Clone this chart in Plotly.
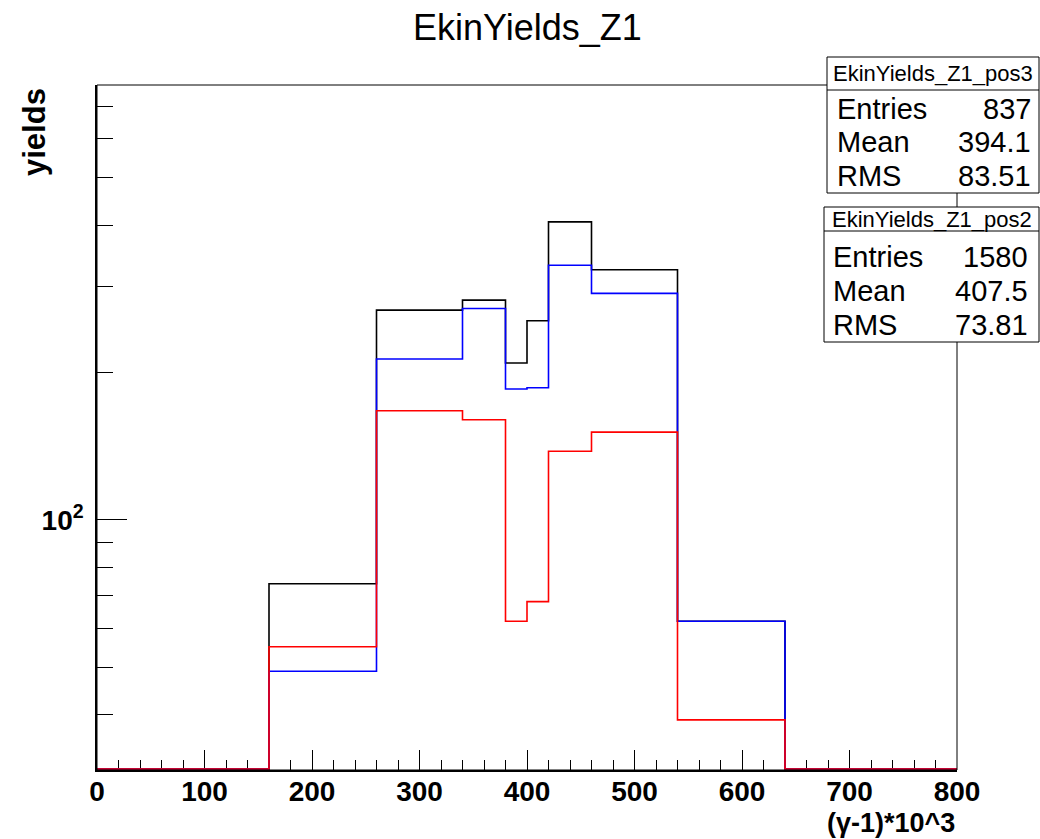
import math
import plotly.graph_objects as go

# ---- data ----
bin_edges = [0, 160, 260, 340, 380, 400, 420, 460, 540, 640, 800]
yields_all = [0, 74, 268, 281, 209, 255, 406, 324, 62, 0]
yields_pos2 = [0, 49, 213, 270, 185, 186, 331, 290, 62, 0]
yields_pos3 = [0, 55, 167, 160, 62, 68, 138, 151, 39, 0]

stats_pos3 = {"name": "EkinYields_Z1_pos3", "Entries": "837", "Mean": "394.1", "RMS": "83.51"}
stats_pos2 = {"name": "EkinYields_Z1_pos2", "Entries": "1580", "Mean": "407.5", "RMS": "73.81"}

y_lo, y_hi = 30.8, 773.0

W, H = 1040, 839
L, R, T, B = 97, 957, 85, 770


def px2x(px):
    return (px - L) / (R - L)


def py2y(py):
    return (B - py) / (B - T)


def step(vals):
    floor = 10 ** (math.log10(y_lo) + 0.002)
    v = [x if x > 0 else floor for x in vals]
    xs = bin_edges[:-1] + [bin_edges[-1]]
    ys = v + [v[-1]]
    return xs, ys


fig = go.Figure()
for vals, col in [(yields_all, "#000000"), (yields_pos2, "#0000ff"), (yields_pos3, "#ff0000")]:
    xs, ys = step(vals)
    fig.add_trace(go.Scatter(x=xs, y=ys, mode="lines", line=dict(color=col, width=1.6, shape="hv"),
                             showlegend=False, hoverinfo="skip"))

bold = dict(family="Liberation Sans, Arial, sans-serif", size=28, color="black", weight="bold")
reg = "Liberation Sans, Arial, sans-serif"

fig.update_layout(
    width=W, height=H,
    margin=dict(l=L, r=W - R, t=T, b=H - B, pad=0),
    paper_bgcolor="white", plot_bgcolor="white",
    showlegend=False,
    xaxis=dict(range=[0, 800], showgrid=False, zeroline=False, showline=True, linecolor="black",
               linewidth=1.5, ticks="inside", ticklen=20, tickwidth=1, tickcolor="black",
               tickmode="linear", tick0=0, dtick=100, tickfont=bold, ticklabelstandoff=-4,
               layer="below traces",
               minor=dict(ticks="inside", ticklen=10, tickwidth=1, tickcolor="black", dtick=20, tick0=0)),
    yaxis=dict(type="log", range=[math.log10(y_lo), math.log10(y_hi)], showgrid=False, zeroline=False,
               showline=True, linecolor="black", linewidth=1.5, ticks="inside", ticklen=30, tickwidth=1,
               tickcolor="black", tickmode="array", tickvals=[100], ticktext=["10<sup>2</sup>"],
               tickfont=bold, ticklabelstandoff=6, layer="below traces",
               minor=dict(ticks="inside", ticklen=16, tickwidth=1, tickcolor="black", tickmode="array",
                          tickvals=[40, 50, 60, 70, 80, 90, 200, 300, 400, 500, 600, 700])),
)

# frame
fig.add_shape(type="rect", xref="paper", yref="paper", x0=0, x1=1, y0=0, y1=1,
              line=dict(color="black", width=1), layer="above")

# title
fig.add_annotation(text="EkinYields_Z1", xref="paper", yref="paper", x=px2x(527), y=py2y(28),
                   xanchor="center", yanchor="middle", showarrow=False,
                   font=dict(family=reg, size=36, color="black"))

# axis titles
fig.add_annotation(text="(γ-1)*10^3", xref="paper", yref="paper", x=1, y=py2y(823),
                   xanchor="right", yanchor="middle", showarrow=False,
                   font=dict(family=bold["family"], size=27, color="black", weight="bold"))
fig.add_annotation(text="yields", xref="paper", yref="paper", x=px2x(34), y=py2y(86),
                   xanchor="center", yanchor="top", textangle=-90, showarrow=False,
                   font=dict(family=bold["family"], size=31, color="black", weight="bold"))


def stat_box(st, x0, x1, y0, ysep, y1, rows_y, left_x, right_x):
    fig.add_shape(type="rect", xref="paper", yref="paper", x0=px2x(x0), x1=px2x(x1),
                  y0=py2y(y1), y1=py2y(y0), line=dict(color="black", width=1),
                  fillcolor="white", layer="above")
    fig.add_shape(type="line", xref="paper", yref="paper", x0=px2x(x0), x1=px2x(x1),
                  y0=py2y(ysep), y1=py2y(ysep), line=dict(color="black", width=1), layer="above")
    fig.add_annotation(text=st["name"], xref="paper", yref="paper", x=px2x((x0 + x1) / 2),
                       y=py2y((y0 + ysep) / 2), xanchor="center", yanchor="middle", showarrow=False,
                       font=dict(family=reg, size=22, color="black"))
    for key, yy in zip(["Entries", "Mean", "RMS"], rows_y):
        fig.add_annotation(text=key, xref="paper", yref="paper", x=px2x(left_x), y=py2y(yy),
                           xanchor="left", yanchor="middle", showarrow=False,
                           font=dict(family=reg, size=29, color="black"))
        fig.add_annotation(text=st[key], xref="paper", yref="paper", x=px2x(right_x), y=py2y(yy),
                           xanchor="right", yanchor="middle", showarrow=False,
                           font=dict(family=reg, size=29, color="black"))


stat_box(stats_pos3, 827, 1039, 57, 90, 193, [109, 142, 176], 835, 1033)
stat_box(stats_pos2, 824, 1039, 207, 231, 342, [257, 291, 325], 831, 1030)

fig.write_html("out.html", config={"displayModeBar": False},
               post_script="document.body.style.margin='0px';")
